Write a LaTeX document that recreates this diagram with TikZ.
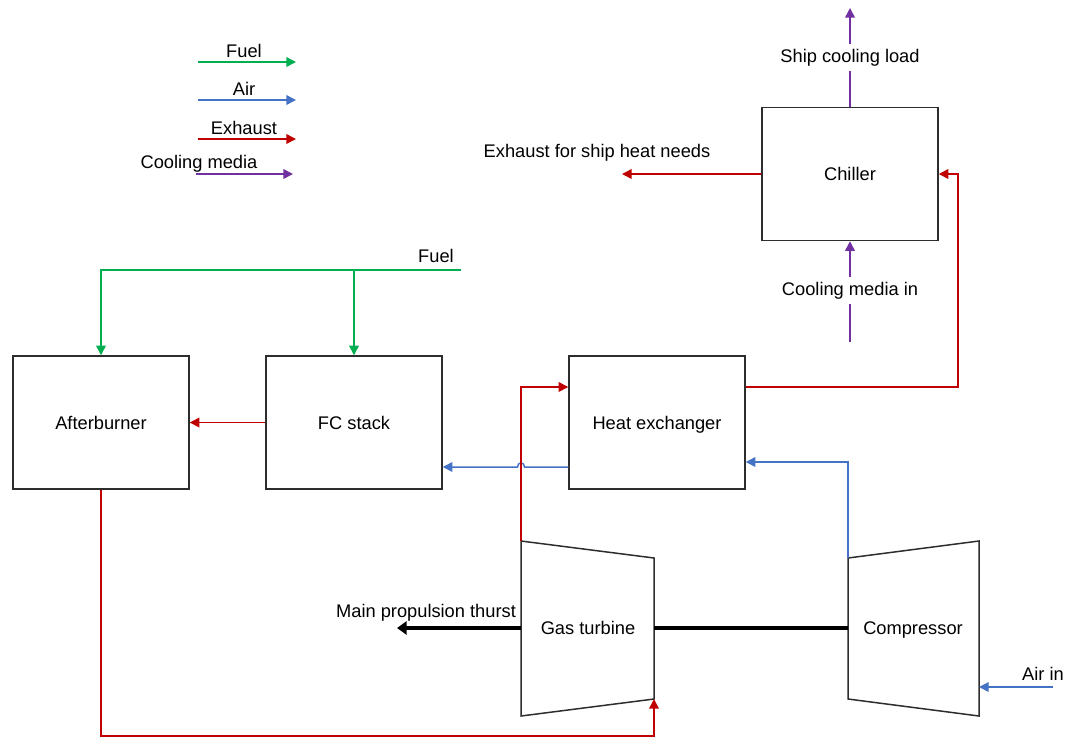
\documentclass[tikz,border=0pt]{standalone}
\usepackage{fontspec}
\setmainfont{Liberation Sans}
\usetikzlibrary{arrows.meta}
\definecolor{cfuel}{RGB}{0,176,80}
\definecolor{cair}{RGB}{68,114,196}
\definecolor{cex}{RGB}{192,0,0}
\definecolor{ccool}{RGB}{112,48,160}
\definecolor{cbox}{RGB}{45,45,45}
\begin{document}
\begin{tikzpicture}[x=0.02cm,y=-0.02cm,
  font=\fontsize{10.4}{12.5}\selectfont,
  tip/.style={-{Triangle[length=5.5pt,width=5.5pt]}},
  fuel/.style={draw=cfuel,line width=0.85pt},
  air/.style={draw=cair,line width=0.85pt},
  ex/.style={draw=cex,line width=0.85pt},
  cool/.style={draw=ccool,line width=0.85pt},
  shaft/.style={draw=black,line width=2.3pt},
  boxline/.style={draw=cbox,line width=0.85pt},
  blk/.style={boxline,minimum width=3.52cm,minimum height=2.66cm,inner sep=0pt,
              text height=7.45pt,text depth=0pt},
  lbl/.style={anchor=base,inner sep=0pt},
  gap/.style={fill=white,inner xsep=2pt,inner ysep=3pt,text height=7.45pt,text depth=2.2pt}]
\useasboundingbox (0,0) rectangle (1071,738);

% legend
\draw[fuel,tip] (198,62) coordinate (lf0) -- (296,62) coordinate (lf1);
\node[lbl] (lfuel) at (244,57) {Fuel};
\draw[air,tip] (198,100) coordinate (la0) -- (296,100) coordinate (la1);
\node[lbl] (lair) at (244,95) {Air};
\draw[ex,tip] (198,139) coordinate (le0) -- (296,139) coordinate (le1);
\node[lbl] (lex) at (244,134) {Exhaust};
\draw[cool,tip] (196,174) coordinate (lc0) -- (293,174) coordinate (lc1);
\node[lbl] (lcool) at (199,168) {Cooling media};

% boxes
\node[blk] (chiller) at (850,174) {Chiller};
\node[blk] (hx) at (657,422.5) {Heat exchanger};
\node[blk] (ab) at (101,422.5) {Afterburner};
\node[blk] (fc) at (354,422.5) {FC stack};

% gas turbine and compressor
\coordinate (GT1) at (521,541);
\coordinate (GT2) at (654,558);
\coordinate (GT3) at (654,699);
\coordinate (GT4) at (521,716);
\draw[boxline] (GT1) -- (GT2) -- (GT3) -- (GT4) -- cycle;
\node (gt) at (588,628) [text height=7.45pt,text depth=0pt,inner sep=0pt] {Gas turbine};
\coordinate (C1) at (848,558);
\coordinate (C2) at (979,541);
\coordinate (C3) at (979,716);
\coordinate (C4) at (848,699);
\draw[boxline] (C1) -- (C2) -- (C3) -- (C4) -- cycle;
\node (comp) at (913,628) [text height=7.45pt,text depth=0pt,inner sep=0pt] {Compressor};
\coordinate (GTw) at (521,628);
\coordinate (GTe) at (654,628);
\coordinate (Cw) at (848,628);

% chiller connections
\coordinate (shipload) at (850,8);
\draw[cool,tip] (chiller.north) -- (shipload);
\node[gap] (lship) at (850,57.5) {Ship cooling load};
\coordinate (coolin) at (850,342);
\draw[cool,tip] (coolin) -- (chiller.south);
\node[gap] (lcoolin) at (850,290.5) {Cooling media in};
\coordinate (heatout) at (622,174);
\draw[ex,tip] (chiller.west) -- (heatout);
\node[lbl] (lheat) at (597,157) {Exhaust for ship heat needs};
\draw[ex,tip] (hx.east |- 0,387) -- (958,387) |- (chiller.east);

% fuel
\coordinate (fuelin) at (461,270);
\draw[fuel,tip] (fuelin) -| (ab.north);
\draw[fuel,tip] (fc.north |- fuelin) -- (fc.north);
\node[lbl] (lfuelin) at (436,262) {Fuel};

% FC -> AB
\draw[ex,tip] (fc.west) -- (ab.east);

% HX -> FC (air) with jump
\draw[air,tip] (hx.west |- 0,467) -- (524.5,467) .. controls (524.5,461.5) and (517.5,461.5) .. (517.5,467) -- (fc.east |- 0,467);

% GT exhaust -> HX
\draw[ex,tip] (GT1) -- (521,387) -- (hx.west |- 0,387);

% AB -> GT
\draw[ex,tip] (ab.south) -- (101,736) -| (GT3);

% shaft
\draw[shaft] (GTe) -- (Cw);
\coordinate (prop) at (397,628);
\draw[shaft,-{Triangle[length=5.5pt,width=7.5pt]}] (GTw) -- (prop);
\node[lbl] (lprop) at (426,617) {Main propulsion thurst};

% air
\coordinate (airin) at (1053,687);
\draw[air,tip] (airin) -- (C3 |- airin);
\node[lbl] (lairin) at (1043,680) {Air in};
\draw[air,tip] (C1) -- (848,462) -- (hx.east |- 0,462);
\end{tikzpicture}
\end{document}
